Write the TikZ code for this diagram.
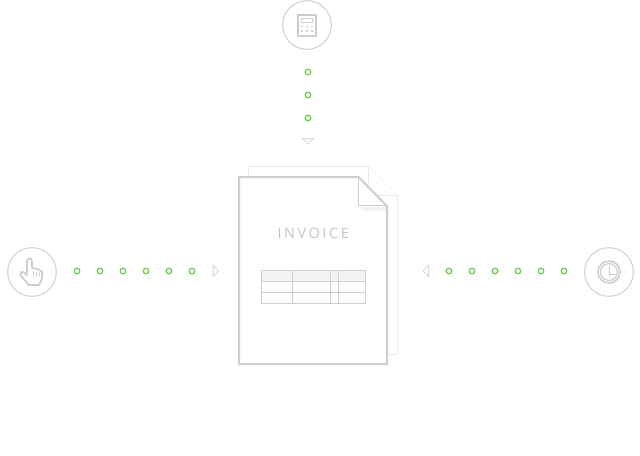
\documentclass[tikz,border=0pt]{standalone}
\usepackage{fontspec}
\setmainfont{Open Sans}
\definecolor{ln}{HTML}{CFCFCF}
\definecolor{lnb}{HTML}{EBEBEB}
\definecolor{hd}{HTML}{F2F2F2}
\definecolor{gn}{HTML}{66CC44}
\definecolor{tx}{HTML}{C4C4C4}
\definecolor{ic}{HTML}{CCCCCC}
\definecolor{tg}{HTML}{DADADA}
\tikzset{
 x=0.75pt,y=-0.75pt,
 round/.style={circle,draw=ln,line width=0.75pt,minimum size=36.5pt,inner sep=0pt,fill=white},
 dot/.style={circle,draw=gn,line width=0.9pt,minimum size=4.2pt,inner sep=0pt,fill=white},
 tri/.style={draw=tg,line width=0.75pt,line join=miter},
 front/.style={draw=ln,line width=1.5pt,line join=miter,fill=white},
 back/.style={draw=lnb,line width=0.75pt,fill=white},
 thin/.style={draw=ln,line width=0.75pt},
 icon/.style={draw=ic,line width=0.9pt,line join=round,line cap=round},
}
\begin{document}
\begin{tikzpicture}
\useasboundingbox (0,0) rectangle (640,455);
\fill[white] (0,0) rectangle (640,455);
% back page
\draw[back] (248.5,166.5) -- (368,166.5) -- (397.5,195.5) -- (397.5,354.5) -- (248.5,354.5) -- cycle;
\draw[back] (368,166.5) -- (368,195.5) -- (397.5,195.5);
% front page
\draw[front] (239,177) -- (358.5,177) -- (387,206) -- (387,364) -- (239,364) -- cycle;
\fill[hd] (358.5,206.5) -- (386,206.5) -- (386,210.5) -- (363,210.5) -- cycle;
\draw[thin] (358.5,177) -- (358.5,205.8) -- (387,205.8);
\node[text=tx,font=\fontsize{10.8pt}{13pt}\selectfont\addfontfeature{LetterSpace=18}] (title) at (313.2,233.6) {INVOICE};
% table
\fill[hd] (261.5,270.5) rectangle (365.5,281.5);
\draw[thin] (261.5,270.5) rectangle (365.5,303);
\draw[thin] (261.5,281.5) -- (365.5,281.5) (261.5,292.5) -- (365.5,292.5);
\draw[thin] (292.5,270.5) -- (292.5,303) (330.5,270.5) -- (330.5,303) (338.5,270.5) -- (338.5,303);
% icon circles
\node[round] (calc) at (307,25) {};
\node[round] (hand) at (32,272) {};
\node[round] (clock) at (609,272) {};
% calculator
\draw[icon,line width=1.2pt] (298,15) rectangle (316,36);
\draw[icon,line width=0.6pt] (301.5,18) rectangle (312.5,22.5);
\foreach \yy in {26.5,31} \foreach \xx in {302,307,312}
  \fill[ln] (\xx-0.9,\yy-0.9) rectangle (\xx+0.9,\yy+0.9);
% hand
\draw[icon,line width=1.3pt] (27,273) -- (27,261.5) .. controls (27,257.5) and (32,257.5) .. (32,261.5) -- (32,268)
  .. controls (36,268.5) and (40.5,269.5) .. (42,272) .. controls (43,276) and (41.5,281) .. (39,285)
  -- (28.5,285) .. controls (26,281) and (22,277.5) .. (20.5,275) .. controls (20,271) and (23,270.5) .. (27,275.5);
\draw[icon,line width=0.6pt] (33.5,272) -- (33.5,276) (36.5,272) -- (36.5,276) (39.5,273) -- (39.5,276);
% clock
\draw[icon,line width=1.1pt] (609,272) circle (11);
\draw[icon,line width=0.9pt] (609,272) circle (8.5);
\draw[icon,line width=0.7pt] (609,266) -- (609,274) -- (615.5,274);
% dots
\foreach \n/\xx in {1/77,2/100,3/123,4/146,5/169,6/192} \node[dot] (l\n) at (\xx,271) {};
\foreach \n/\xx in {1/449,2/472,3/495,4/518,5/541,6/564} \node[dot] (r\n) at (\xx,271) {};
\foreach \n/\yy in {1/72,2/95,3/118} \node[dot] (t\n) at (308,\yy) {};
% triangles
\draw[tri] (213,265.5) -- (218.5,271) -- (213,276.5) -- cycle;
\draw[tri] (428.5,265.5) -- (423,271) -- (428.5,276.5) -- cycle;
\draw[tri] (302.5,138.5) -- (313.5,138.5) -- (308,144) -- cycle;
\end{tikzpicture}
\end{document}
